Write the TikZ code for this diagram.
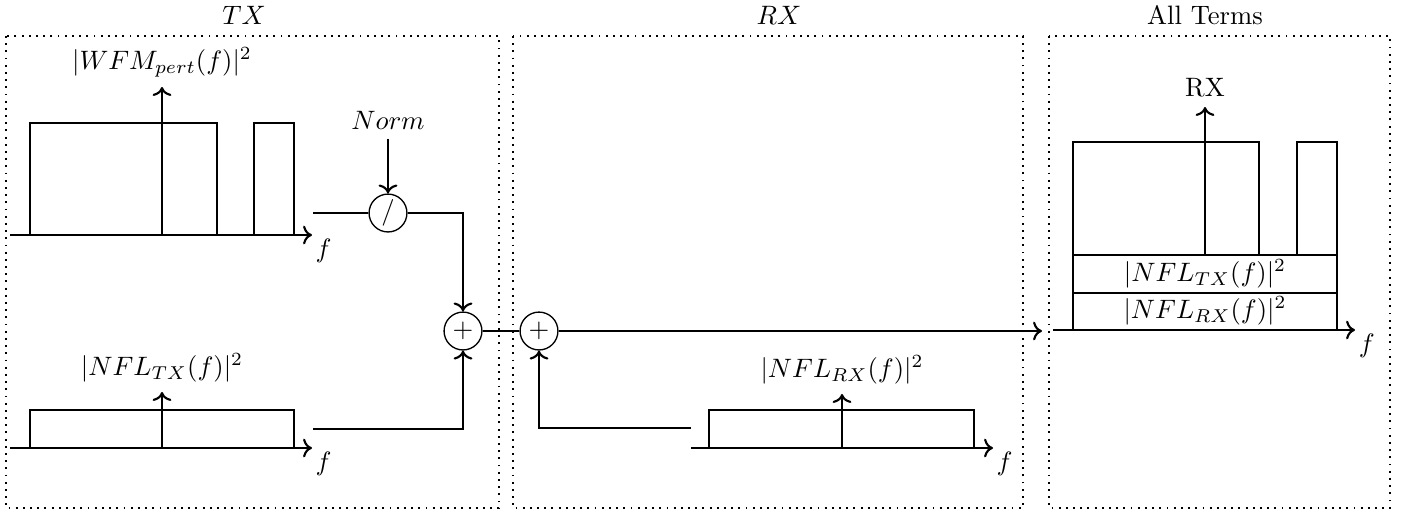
\documentclass[tikz,border=0pt]{standalone}
\usetikzlibrary{arrows.meta,positioning}
\begin{document}
\begin{tikzpicture}[
  x=0.0132cm, y=-0.0132cm,
  grp/.style={draw, dotted, line width=0.7pt},
  sig/.style={thick},
  arr/.style={->, thick},
  op/.style={draw, circle, minimum size=0.5cm, inner sep=0pt, line width=0.5pt},
  ttl/.style={inner sep=1pt},
  lbl/.style={below right, inner sep=1pt}
]
\useasboundingbox (0,0) rectangle (1412,512);
% frames and titles
\draw[grp] (6,36) rectangle (499,508);
\draw[grp] (513,36) rectangle (1023,508);
\draw[grp] (1049,36) rectangle (1390,508);
\node[ttl] (ttx) at (244,15) {$TX$};
\node[ttl] (trx) at (779,15) {$RX$};
\node[ttl] (tall) at (1205,15) {All Terms};
% TX: waveform spectrum
\draw[arr] (10,235) -- (312,235) node[lbl] {$f$};
\draw[sig] (30,235) |- (217,123) -- (217,235);
\draw[sig] (254,235) |- (294,123) -- (294,235);
\draw[arr] (162,235) -- (162,87) node[above] {$|WFM_{pert}(f)|^2$};
% TX: noise floor
\draw[arr] (10,448) -- (312,448) node[lbl] {$f$};
\draw[sig] (30,448) |- (294,410) -- (294,448);
\draw[arr] (162,448) -- (162,392) node[above] {$|NFL_{TX}(f)|^2$};
% TX: normalise and sum
\node (norm) at (388,120) {$Norm$};
\node[op] (div) at (388,213) {$/$};
\node[op] (sumA) at (463,331) {$+$};
\coordinate (wfmout) at (313,213);
\coordinate (nfltxout) at (313,429);
\draw[arr] (norm) -- (div);
\draw[sig] (wfmout) -- (div);
\draw[arr] (div) -| (sumA);
\draw[arr] (nfltxout) -| (sumA);
% RX: noise floor
\node[op] (sumB) at (539,331) {$+$};
\draw[sig] (sumA) -- (sumB);
\draw[arr] (691,448) -- (993,448) node[lbl] {$f$};
\draw[sig] (709,448) |- (974,410) -- (974,448);
\draw[arr] (842,448) -- (842,394) node[above] {$|NFL_{RX}(f)|^2$};
\coordinate (nflrxout) at (691,428);
\draw[arr] (nflrxout) -| (sumB);
\coordinate (allin) at (1042,331);
\draw[arr] (sumB) -- (allin);
% all terms
\draw[arr] (1053,330) -- (1355,330) node[lbl] {$f$};
\draw[sig] (1073,255) |- (1259,142) -- (1259,255);
\draw[sig] (1297,255) |- (1337,142) -- (1337,255);
\draw[sig] (1073,255) rectangle (1337,293);
\draw[sig] (1073,293) rectangle (1337,330);
\node (btx) at (1205,274) {$|NFL_{TX}(f)|^2$};
\node (brx) at (1205,311) {$|NFL_{RX}(f)|^2$};
\draw[arr] (1205,255) -- (1205,107) node[above] {RX};
\end{tikzpicture}
\end{document}
